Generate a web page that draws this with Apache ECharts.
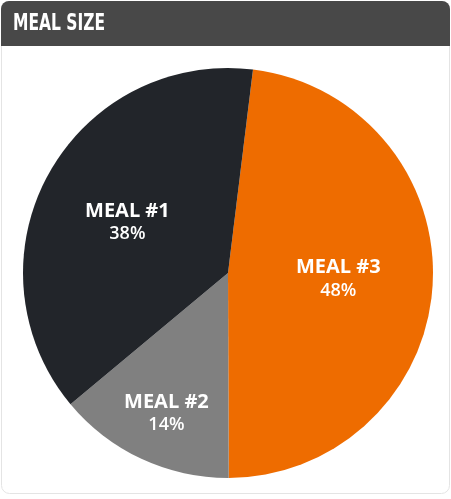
<!DOCTYPE html>
<html>
<head>
<meta charset="utf-8">
<script src="https://cdn.jsdelivr.net/npm/echarts@6/dist/echarts.min.js"></script>
<style>
html,body{margin:0;padding:0;background:#fff;}
#chart{width:451px;height:499px;}
</style>
</head>
<body>
<div id="chart"></div>
<script>
const title = 'MEAL SIZE';
const categories = ['MEAL #3', 'MEAL #2', 'MEAL #1'];
const values = [48, 14, 38];
const colors = ['#ee6c00', '#808080', '#22252a'];
const labelOffsets = [[5, 0], [-17, 45], [-8, 0]];

const chart = echarts.init(document.getElementById('chart'), null, {renderer: 'canvas'});
chart.setOption({
  animation: false,
  graphic: [
    {type: 'rect', shape: {x: 1.5, y: 1.5, width: 448, height: 492, r: 8}, style: {fill: '#fff', stroke: '#e4e4e4', lineWidth: 1}, z: 0},
    {type: 'rect', shape: {x: 1, y: 1, width: 449, height: 45, r: [8, 8, 0, 0]}, style: {fill: '#484848'}, z: 1},
    {type: 'text', x: 13, y: 24, scaleX: 0.75, z: 2,
     style: {text: title, fill: '#fff', font: 'bold 23px "DejaVu Sans Condensed"', textVerticalAlign: 'middle', textAlign: 'left'}}
  ],
  series: [{
    type: 'pie',
    center: [228, 273],
    radius: [0, 205],
    startAngle: 83,
    clockwise: true,
    silent: true,
    z: 3,
    itemStyle: {borderWidth: 0},
    label: {
      position: 'inside',
      color: '#fff',
      fontFamily: 'Open Sans',
      formatter: p => '{a|' + p.name + '}\n{b|' + p.value + '%}',
      rich: {
        a: {fontSize: 20, fontWeight: 'bold', color: '#fff', fontFamily: 'Open Sans', lineHeight: 23},
        b: {fontSize: 18, fontWeight: 600, color: '#fff', fontFamily: 'Open Sans', lineHeight: 23}
      }
    },
    labelLine: {show: false},
    data: categories.map((c, i) => ({
      name: c, value: values[i],
      itemStyle: {color: colors[i]},
      label: {offset: labelOffsets[i]}
    }))
  }]
});
</script>
</body>
</html>
